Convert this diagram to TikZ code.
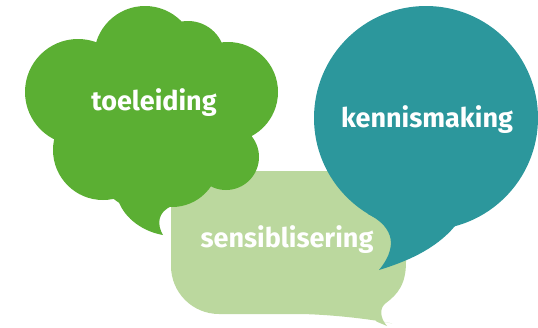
\documentclass[tikz,border=0pt]{standalone}
\usepackage{fontspec}
\setmainfont{Fira Sans}
\usepackage{xcolor}
\usepackage{tikz}
\definecolor{cloudgreen}{HTML}{5BAF33}
\definecolor{palegreen}{HTML}{BBD89E}
\definecolor{tealblue}{HTML}{2C979C}
\tikzset{
	word/.style={text=white, inner sep=0pt, font=\bfseries\fontsize{27}{32}\selectfont}
}

\begin{document}
\begin{tikzpicture}[x=1pt,y=-1pt]
		\useasboundingbox (0,0) rectangle (538,327);

		\fill [palegreen] (171,200) [rounded corners=48pt] -- (171,314) -- (345,314) [sharp corners]
			.. controls (365,318) and (378,322) .. (387,326)
			.. controls (380,318) and (379,308) .. (386,303)
			.. controls (398,294) and (406,284) .. (406,262)
			[rounded corners=30pt] -- (406,171) -- (190,171) [sharp corners] -- cycle;

		\fill [cloudgreen] (145,57) circle (51) (188,58) circle (37) (228,92) circle (50)
			(226,157) circle (33) (78,92) circle (53) (103,150) circle (50)
			(145,160) circle (50) (172,160) circle (47) (150,110) circle (70);
		\fill [cloudgreen] (118,200) .. controls (125,220) and (145,232) .. (163,235)
			.. controls (157,225) and (157,212) .. (172,206) -- (160,180) -- cycle;

		\fill [tealblue] (426,118) circle (112);
		\fill [tealblue] (368,214) .. controls (388,224) and (402,242) .. (379,270)
			.. controls (405,262) and (435,250) .. (455,226) -- (420,200) -- cycle;

		\node[word] (toeleiding) at (154,103) {toeleiding};
		\node[word] (sensiblisering) at (287,240) {sensiblisering};
		\node[word] (kennismaking) at (427,120) {kennismaking};

		\end{tikzpicture}
\end{document}
